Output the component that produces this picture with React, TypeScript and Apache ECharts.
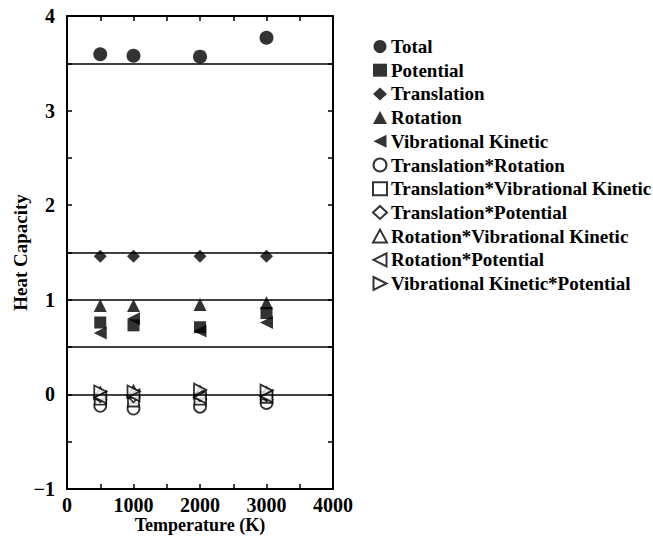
import React, { useEffect, useRef } from "react";
import * as echarts from "echarts";

const temperatures = [500, 1000, 2000, 3000];
const total = [3.595, 3.58, 3.57, 3.77];
const potential = [0.76, 0.73, 0.71, 0.86];
const translation = [1.46, 1.46, 1.46, 1.46];
const rotation = [0.94, 0.94, 0.95, 0.97];
const vibrationalKinetic = [0.65, 0.8, 0.67, 0.76];
const translationRotation = [-0.12, -0.15, -0.13, -0.09];
const translationVibKinetic = [-0.05, -0.07, -0.05, -0.03];
const translationPotential = [-0.02, -0.02, -0.01, -0.01];
const rotationVibKinetic = [0.01, 0.03, 0.02, 0.01];
const rotationPotential = [-0.03, -0.01, -0.03, -0.02];
const vibKineticPotential = [0.03, 0.03, 0.05, 0.04];
const referenceLines = [3.5, 1.5, 1.0, 0.5, 0];

const LEFT_TRI = "path://M0,5 L10,0 L10,10 Z";
const RIGHT_TRI = "path://M0,0 L10,5 L0,10 Z";

const seriesDefs = [
  { name: "Total", data: total, symbol: "circle", size: 14, filled: true },
  { name: "Potential", data: potential, symbol: "rect", size: 12, filled: true },
  { name: "Translation", data: translation, symbol: "diamond", size: 13, filled: true },
  { name: "Rotation", data: rotation, symbol: "triangle", size: 13, filled: true },
  { name: "Vibrational Kinetic", data: vibrationalKinetic, symbol: LEFT_TRI, size: 13, filled: true },
  { name: "Translation*Rotation", data: translationRotation, symbol: "circle", size: 12, filled: false },
  { name: "Translation*Vibrational Kinetic", data: translationVibKinetic, symbol: "rect", size: 11, filled: false },
  { name: "Translation*Potential", data: translationPotential, symbol: "diamond", size: 12, filled: false },
  { name: "Rotation*Vibrational Kinetic", data: rotationVibKinetic, symbol: "triangle", size: 12, filled: false },
  { name: "Rotation*Potential", data: rotationPotential, symbol: LEFT_TRI, size: 12, filled: false },
  { name: "Vibrational Kinetic*Potential", data: vibKineticPotential, symbol: RIGHT_TRI, size: 12, filled: false },
];

const FONT = "'Liberation Serif', 'Times New Roman', serif";
const axisLine = { show: true, onZero: false, lineStyle: { color: "#000", width: 2 } };
const axisTick = { show: true, inside: true, length: 5, lineStyle: { color: "#000", width: 1.5 } };
const labelStyle = { fontFamily: FONT, fontWeight: "bold", fontSize: 20, color: "#000" };

export default function App() {
  const ref = useRef<HTMLDivElement>(null);
  useEffect(() => {
    document.body.style.margin = "0";
    const chart = echarts.init(ref.current!, null, { renderer: "svg" });
    const series: any[] = seriesDefs.map((s) => ({
      name: s.name,
      type: "scatter",
      symbol: s.symbol,
      symbolSize: s.size,
      data: temperatures.map((t, i) => [t, s.data[i]]),
      itemStyle: s.filled
        ? { color: "#000", borderWidth: 0 }
        : { color: "#fff", borderColor: "#000", borderWidth: 1.8 },
      z: s.filled ? 3 : 4,
    }));
    series.push({
      name: "lines",
      type: "line",
      data: [],
      silent: true,
      markLine: {
        silent: true,
        symbol: "none",
        label: { show: false },
        lineStyle: { color: "#000", width: 1.5, type: "solid" },
        data: referenceLines.map((v) => ({ yAxis: v })),
      },
      z: 1,
    });
    chart.setOption({
      animation: false,
      backgroundColor: "#fff",
      textStyle: { fontFamily: FONT },
      grid: { left: 67, right: 320, top: 16, bottom: 48, containLabel: false, outerBoundsMode: "none" },
      legend: {
        data: seriesDefs.map((s) => s.name),
        orient: "vertical",
        left: 367,
        top: 32,
        itemWidth: 14,
        itemHeight: 13,
        itemGap: 4.7,
        textStyle: { fontFamily: FONT, fontWeight: "bold", fontSize: 19, lineHeight: 19, color: "#000", padding: [0, 0, 0, -1] },
        selectedMode: false,
      },
      xAxis: [
        {
          type: "value",
          position: "bottom",
          min: 0,
          max: 4000,
          interval: 500,
          name: "Temperature (K)",
          nameLocation: "middle",
          nameGap: 27,
          nameMoveOverlap: false,
          nameTextStyle: { fontFamily: FONT, fontWeight: "bold", fontSize: 18, lineHeight: 18, color: "#000" },
          axisLine,
          axisTick,
          axisLabel: {
            ...labelStyle,
            margin: 6,
            formatter: (v: number) => (v % 1000 === 0 ? String(v) : ""),
          },
          splitLine: { show: false },
        },
        {
          type: "value",
          position: "top",
          min: 0,
          max: 4000,
          interval: 500,
          axisLine,
          axisTick,
          axisLabel: { show: false },
          splitLine: { show: false },
        },
      ],
      yAxis: [
        {
          type: "value",
          position: "left",
          min: -1,
          max: 4,
          interval: 0.5,
          name: "Heat Capacity",
          nameLocation: "middle",
          nameGap: 37,
          nameTextStyle: { fontFamily: FONT, fontWeight: "bold", fontSize: 19, color: "#000" },
          axisLine,
          axisTick,
          axisLabel: {
            ...labelStyle,
            margin: 12,
            formatter: (v: number) => (Number.isInteger(v) ? (v < 0 ? "\u2212" + Math.abs(v) : String(v)) : ""),
          },
          splitLine: { show: false },
        },
        {
          type: "value",
          position: "right",
          min: -1,
          max: 4,
          interval: 0.5,
          axisLine,
          axisTick,
          axisLabel: { show: false },
          splitLine: { show: false },
        },
      ],
      series,
    });
    return () => chart.dispose();
  }, []);
  return <div ref={ref} style={{ width: 653, height: 537 }} />;
}
